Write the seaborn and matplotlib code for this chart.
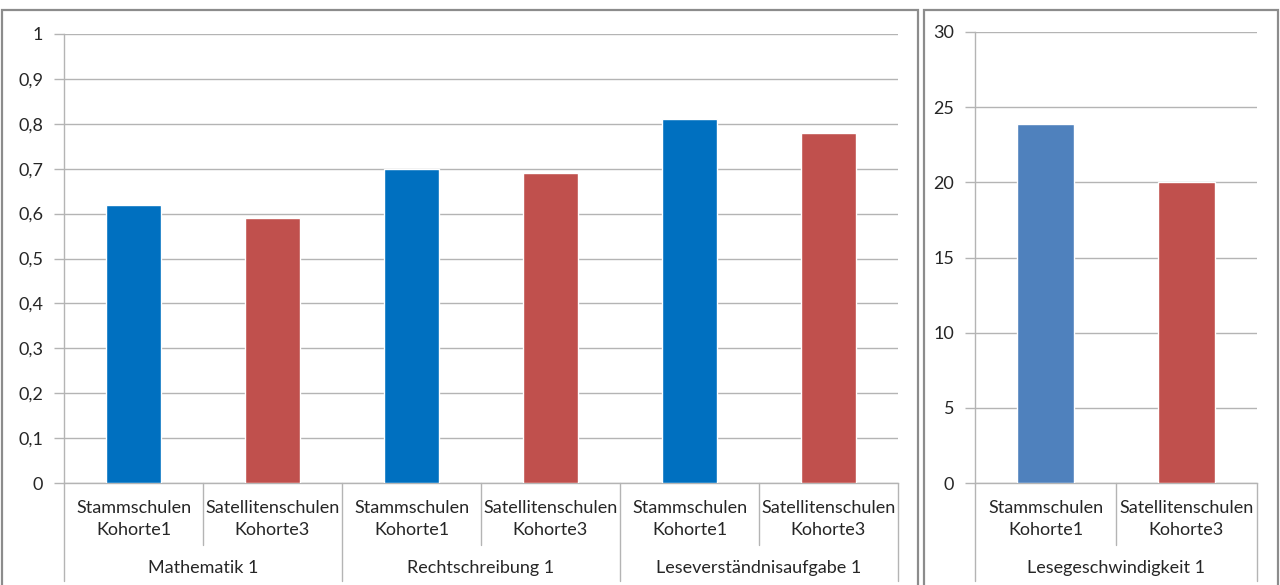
import matplotlib
matplotlib.use("Agg")
import matplotlib.pyplot as plt
import matplotlib.transforms as mtransforms
from matplotlib.patches import Rectangle
from matplotlib.lines import Line2D
import seaborn as sns
import pandas as pd

# ---- data ----
groups = ["Mathematik 1", "Rechtschreibung 1", "Leseverständnisaufgabe 1"]
schools = ["Stammschulen\nKohorte1", "Satellitenschulen\nKohorte3"]
stamm_values = [0.62, 0.70, 0.81]
sat_values = [0.59, 0.69, 0.78]
speed_group = "Lesegeschwindigkeit 1"
speed_values = [23.9, 20.0]
left_ticks = [0, 0.1, 0.2, 0.3, 0.4, 0.5, 0.6, 0.7, 0.8, 0.9, 1]
left_tick_labels = ["0", "0,1", "0,2", "0,3", "0,4", "0,5", "0,6", "0,7", "0,8", "0,9", "1"]
right_ticks = [0, 5, 10, 15, 20, 25, 30]

sns.set_theme(style="white")
plt.rcParams["font.family"] = ["Lato", "DejaVu Sans"]

W, H = 1280, 585
fig = plt.figure(figsize=(W / 100, H / 100), dpi=100)
fig.patch.set_facecolor("white")

def fx(px):
    return px / W

def fy(py):
    return 1 - py / H

grid_c = "#B4B4B4"
text_c = "#262626"
fs = 13

# panel borders
for x0, x1 in [(2, 918), (924, 1278)]:
    fig.patches.append(Rectangle((fx(x0), fy(600)), fx(x1) - fx(x0), fy(10) - fy(600),
                                 transform=fig.transFigure, fill=False,
                                 edgecolor="#8C8C8C", linewidth=1.6, zorder=0))

ax1 = fig.add_axes([fx(64), fy(483), fx(898) - fx(64), fy(34) - fy(483)])
ax2 = fig.add_axes([fx(975), fy(483), fx(1257) - fx(975), fy(32) - fy(483)])

# left data frame
rows = []
for g, s1, s2 in zip(groups, stamm_values, sat_values):
    rows.append({"pos": g + "|" + schools[0], "school": schools[0], "value": s1})
    rows.append({"pos": g + "|" + schools[1], "school": schools[1], "value": s2})
df1 = pd.DataFrame(rows)
sns.barplot(data=df1, x="pos", y="value", hue="school", dodge=False, width=0.4,
            palette={schools[0]: "#0070C0", schools[1]: "#C0504D"},
            legend=False, ax=ax1, saturation=1, zorder=3)

df2 = pd.DataFrame({"pos": schools, "school": schools, "value": speed_values})
sns.barplot(data=df2, x="pos", y="value", hue="school", dodge=False, width=0.4,
            palette={schools[0]: "#4F81BD", schools[1]: "#C0504D"},
            legend=False, ax=ax2, saturation=1, zorder=3)

def style(ax, ticks, labels, n):
    ax.set_xlim(-0.5, n - 0.5)
    ax.set_ylim(ticks[0], ticks[-1])
    ax.set_yticks(ticks)
    ax.set_yticklabels(labels, fontsize=fs, color=text_c)
    ax.set_xticks([])
    ax.set_xlabel("")
    ax.set_ylabel("")
    ax.grid(axis="y", color=grid_c, linewidth=1, zorder=0)
    ax.set_axisbelow(True)
    for sp in ["top", "right"]:
        ax.spines[sp].set_visible(False)
    for sp in ["left", "bottom"]:
        ax.spines[sp].set_color(grid_c)
        ax.spines[sp].set_linewidth(1)
    ax.tick_params(axis="y", length=7, color=grid_c, width=1, pad=8, left=True)
    ax.set_facecolor("white")

style(ax1, left_ticks, left_tick_labels, 6)
style(ax2, right_ticks, [str(t) for t in right_ticks], 2)

def hier_labels(ax, group_names, n_sub):
    tr = mtransforms.blended_transform_factory(ax.transData, fig.transFigure)
    n = len(group_names) * n_sub
    for i in range(n + 1):
        x = i - 0.5
        long = (i % n_sub == 0)
        y_end = 581 if long else 545
        ax.add_line(Line2D([x, x], [fy(483), fy(y_end)], transform=tr, color=grid_c,
                           linewidth=1, clip_on=False))
    for gi, g in enumerate(group_names):
        for si in range(n_sub):
            x = gi * n_sub + si
            ax.text(x, fy(519), schools[si], transform=tr, ha="center", va="center",
                    fontsize=fs, color=text_c, linespacing=1.45)
        xc = gi * n_sub + (n_sub - 1) / 2
        ax.text(xc, fy(568), g, transform=tr, ha="center", va="center",
                fontsize=fs, color=text_c)

hier_labels(ax1, groups, 2)
hier_labels(ax2, [speed_group], 2)

fig.savefig("out.png", dpi=100, facecolor="white")
